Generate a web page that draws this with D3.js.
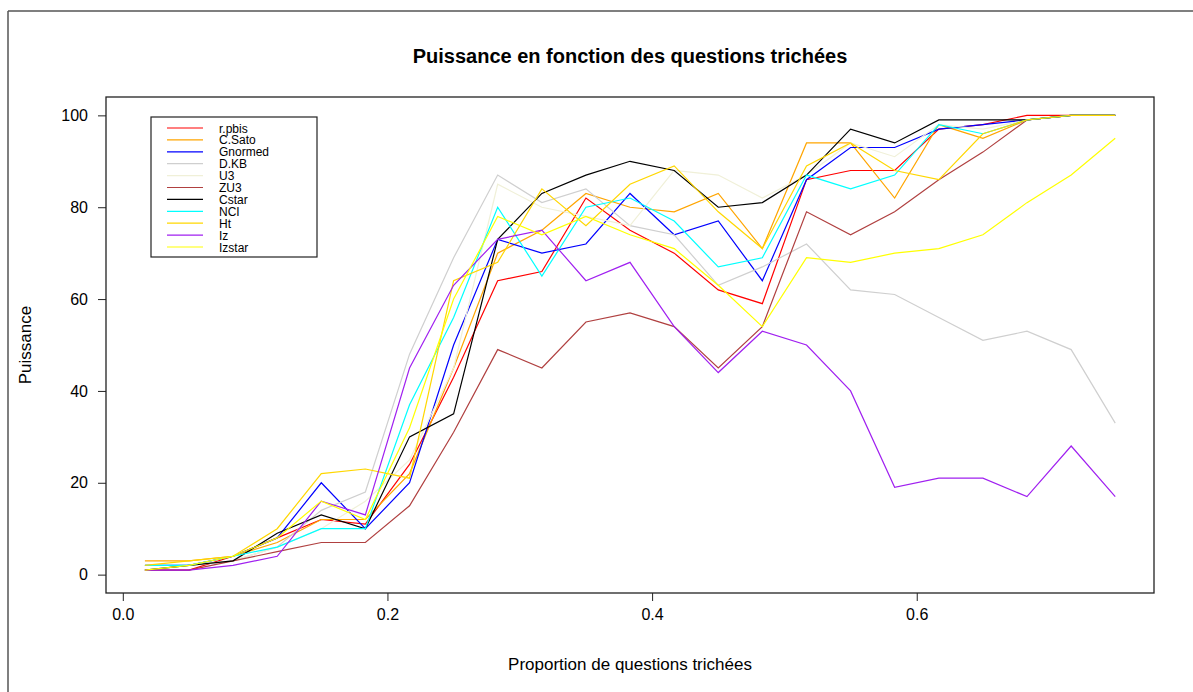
<!DOCTYPE html>
<meta charset="utf-8" />
<style>
  body { margin: 0; background: #fff; }
  text { font-family: Arial, "Liberation Sans", sans-serif; fill: #000; }
  .lines path { fill: none; stroke-width: 1.2px; }
</style>
<svg width="1193" height="692"></svg>
<script src="https://d3js.org/d3.v7.min.js"></script>
<script>
  // proportion of cheated questions
  var props = [0.0167, 0.05, 0.0833, 0.1167, 0.15, 0.1833, 0.2167, 0.25, 0.2833, 0.3167, 0.35, 0.3833,
    0.4167, 0.45, 0.4833, 0.5167, 0.55, 0.5833, 0.6167, 0.65, 0.6833, 0.7167, 0.75];

  var names = ["r.pbis", "C.Sato", "Gnormed", "D.KB", "U3", "ZU3", "Cstar", "NCI", "Ht", "Iz", "Izstar"];
  var colors = ["#ff0000", "#ffa500", "#0000ff", "#cfcfcf", "#f0f0d8", "#b04040", "#000000",
    "#00ffff", "#ffd700", "#a020f0", "#ffff00"];

  var rpbis   = [1, 1, 4, 8, 12, 11, 24, 43, 64, 66, 82, 75, 70, 62, 59, 86, 88, 88, 97, 98, 100, 100, 100];
  var csato   = [3, 3, 4, 7, 12, 12, 22, 45, 70, 75, 83, 80, 79, 83, 71, 94, 94, 82, 98, 95, 99, 100, 100];
  var gnormed = [2, 2, 4, 8, 20, 10, 20, 50, 73, 70, 72, 83, 74, 77, 64, 86, 93, 93, 97, 98, 99, 100, 100];
  var dkb     = [1, 2, 3, 6, 14, 18, 48, 69, 87, 81, 84, 76, 74, 63, 67, 72, 62, 61, 56, 51, 53, 49, 33];
  var u3      = [1, 2, 3, 6, 10, 16, 25, 45, 85, 80, 78, 76, 88, 87, 82, 87, 94, 91, 98, 97, 99, 100, 100];
  var zu3     = [1, 1, 3, 5, 7, 7, 15, 31, 49, 45, 55, 57, 54, 45, 54, 79, 74, 79, 86, 92, 99, 100, 100];
  var cstar   = [1, 2, 3, 9, 13, 10, 30, 35, 73, 83, 87, 90, 88, 80, 81, 87, 97, 94, 99, 99, 99, 100, 100];
  var nci     = [2, 2, 4, 6, 10, 10, 37, 56, 80, 65, 80, 82, 77, 67, 69, 87, 84, 87, 98, 96, 99, 100, 100];
  var ht      = [2, 3, 4, 10, 22, 23, 21, 64, 68, 84, 76, 85, 89, 79, 71, 89, 94, 88, 86, 96, 99, 100, 100];
  var iz      = [1, 1, 2, 4, 16, 13, 45, 63, 73, 75, 64, 68, 54, 44, 53, 50, 40, 19, 21, 21, 17, 28, 17];
  var izstar  = [1, 2, 4, 8, 16, 12, 32, 60, 78, 74, 78, 74, 71, 63, 54, 69, 68, 70, 71, 74, 81, 87, 95];

  var series = [rpbis, csato, gnormed, dkb, u3, zu3, cstar, nci, ht, iz, izstar];

  var xTicks = [0, 0.2, 0.4, 0.6];
  var yTicks = [0, 20, 40, 60, 80, 100];

  var svg = d3.select("svg");

  // screenshot frame
  svg.append("line").attr("x1", 8).attr("x2", 1193).attr("y1", 11).attr("y2", 11)
    .attr("stroke", "#555").attr("stroke-width", 1.5);
  svg.append("line").attr("x1", 8).attr("x2", 8).attr("y1", 11).attr("y2", 692)
    .attr("stroke", "#555").attr("stroke-width", 1.5);

  var pL = 106, pR = 1154, pT = 97, pB = 593;

  var x = d3.scaleLinear().domain([-0.0127, 0.7793]).range([pL, pR]);
  var y = d3.scaleLinear().domain([-4, 104]).range([pB, pT]);

  var line = d3.line()
    .x(function (d, i) { return x(props[i]); })
    .y(function (d) { return y(d); });

  svg.append("g")
    .attr("class", "lines")
    .selectAll("path")
    .data(series)
    .enter()
    .append("path")
    .attr("d", line)
    .attr("stroke", function (d, i) { return colors[i]; });

  // box
  svg.append("rect")
    .attr("x", pL).attr("y", pT)
    .attr("width", pR - pL).attr("height", pB - pT)
    .attr("fill", "none").attr("stroke", "#222").attr("stroke-width", 1.3);

  var xAxis = svg.append("g")
    .attr("transform", "translate(0," + pB + ")")
    .call(d3.axisBottom(x).tickValues(xTicks).tickFormat(d3.format(".1f")).tickSize(8).tickPadding(8));
  xAxis.select(".domain").remove();
  xAxis.selectAll("line").attr("stroke", "#222");
  xAxis.selectAll("text").style("font-size", "16px").attr("fill", "#000");

  var yAxis = svg.append("g")
    .attr("transform", "translate(" + pL + ",0)")
    .call(d3.axisLeft(y).tickValues(yTicks).tickSize(8).tickPadding(10));
  yAxis.select(".domain").remove();
  yAxis.selectAll("line").attr("stroke", "#222");
  yAxis.selectAll("text").style("font-size", "16px").attr("fill", "#000");

  svg.append("text")
    .attr("x", 630).attr("y", 63)
    .attr("text-anchor", "middle")
    .style("font-size", "20px").style("font-weight", "bold")
    .text("Puissance en fonction des questions trichées");

  svg.append("text")
    .attr("x", 630).attr("y", 670)
    .attr("text-anchor", "middle")
    .style("font-size", "17px")
    .text("Proportion de questions trichées");

  svg.append("text")
    .attr("transform", "translate(31,345) rotate(-90)")
    .attr("text-anchor", "middle")
    .style("font-size", "17px")
    .text("Puissance");

  // legend
  var lg = svg.append("g");
  lg.append("rect")
    .attr("x", 151).attr("y", 117).attr("width", 166).attr("height", 140)
    .attr("fill", "#fff").attr("stroke", "#222").attr("stroke-width", 1.2);
  var item = lg.selectAll("g.item")
    .data(names)
    .enter()
    .append("g")
    .attr("transform", function (d, i) { return "translate(0," + (128 + i * 11.9) + ")"; });
  item.append("line")
    .attr("x1", 167).attr("x2", 203)
    .attr("stroke", function (d, i) { return colors[i]; })
    .attr("stroke-width", 1.2);
  item.append("text")
    .attr("x", 219).attr("y", 4.5)
    .style("font-size", "12px")
    .text(function (d) { return d; });
</script>
